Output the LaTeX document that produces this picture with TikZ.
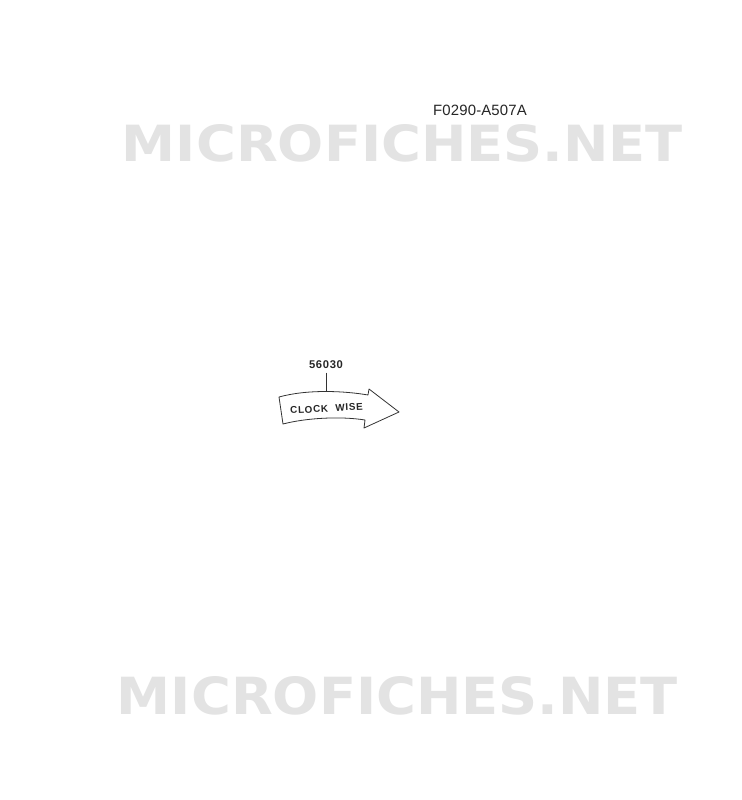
\documentclass[tikz,border=0pt]{standalone}
\usepackage{fontspec}
\usepackage{graphicx}
\setmainfont{Liberation Sans}
\newfontfamily\wmfont{DejaVu Sans}
\definecolor{wmgray}{gray}{0.89}
\tikzset{
  partlabel/.style={font=\fontsize{8.4}{9}\selectfont\bfseries\addfontfeature{LetterSpace=6}, inner sep=0pt, text=black!85},
  figlabel/.style={font=\fontsize{11.2}{12}\selectfont\addfontfeature{LetterSpace=1}, inner sep=0pt, text=black!85},
  decaltext/.style={font=\fontsize{7.4}{8}\selectfont\bfseries\addfontfeature{LetterSpace=7}, inner sep=0pt, rotate=3, text=black!85},
  decal/.style={draw=black!80, line width=0.6pt, fill=white, line join=round},
  leader/.style={draw=black!80, line width=0.6pt},
  watermark/.style={inner sep=0pt, text=wmgray, font=\wmfont\bfseries}
}
\begin{document}
\begin{tikzpicture}[x=0.75pt,y=-0.75pt]
\useasboundingbox[fill=white] (0,0) rectangle (742,800);
% watermarks
\node[watermark] (wm1) at (402.5,143.5) {\resizebox{420.75pt}{27.75pt}{MICROFICHES.NET}};
\node[watermark] (wm2) at (397.5,696) {\resizebox{420.75pt}{28.5pt}{MICROFICHES.NET}};
% figure number
\node[figlabel] (fig) at (480,110) {F0290-A507A};
% decal arrow
\draw[decal] (279,397) .. controls (308,389) and (345,391) .. (368,395) -- (369,389) -- (399,412) -- (364,428) -- (365,420) .. controls (340,416) and (306,418) .. (283,424) -- cycle;
\coordinate (decaltop) at (326,392.3);
\node[decaltext] (cw) at (326.5,408.5) {CLOCK\hspace{3pt} WISE};
% part number
\node[partlabel] (pn) at (326,364.5) {56030};
\draw[leader] ([yshift=-3pt]pn.south) -- (decaltop);
\end{tikzpicture}
\end{document}
